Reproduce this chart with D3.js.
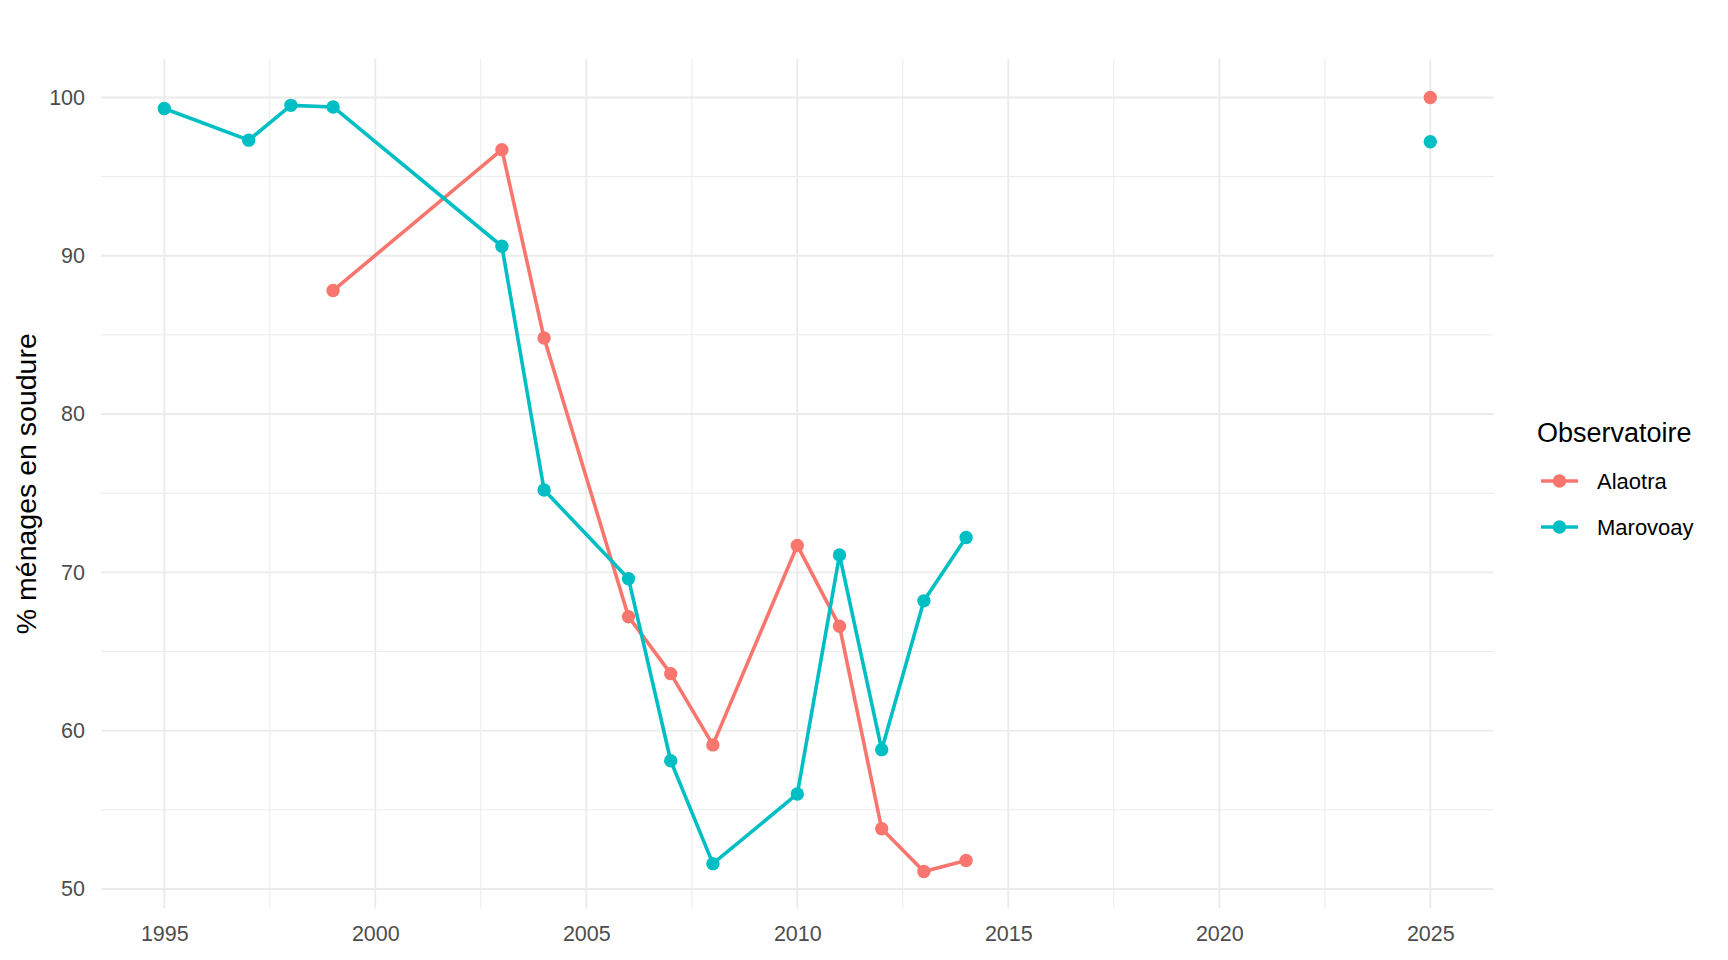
<!DOCTYPE html>
<html>
<head>
<meta charset="utf-8">
<script src="https://cdn.jsdelivr.net/npm/d3@7"></script>
<style>
  html, body { margin: 0; padding: 0; background: #fff; }
  svg { display: block; font-family: "Liberation Sans", Arial, sans-serif; }
</style>
</head>
<body>
<svg id="chart" width="1728" height="960"></svg>
<script>
// ---- Data ----
const seriesNames = ["Alaotra", "Marovoay"];
const seriesColors = ["#F8766D", "#00BFC4"];

// null marks the missing years between 2014 and 2025 (line break)
const alaotraYears  = [1999, 2003, 2004, 2006, 2007, 2008, 2010, 2011, 2012, 2013, 2014, 2015, 2025];
const alaotraValues = [87.8, 96.7, 84.8, 67.2, 63.6, 59.1, 71.7, 66.6, 53.8, 51.1, 51.8, null, 100.0];

const marovoayYears  = [1995, 1997, 1998, 1999, 2003, 2004, 2006, 2007, 2008, 2010, 2011, 2012, 2013, 2014, 2015, 2025];
const marovoayValues = [99.3, 97.3, 99.5, 99.4, 90.6, 75.2, 69.6, 58.1, 51.6, 56.0, 71.1, 58.8, 68.2, 72.2, null, 97.2];

const xTicks = [1995, 2000, 2005, 2010, 2015, 2020, 2025];
const xMinor = [1997.5, 2002.5, 2007.5, 2012.5, 2017.5, 2022.5];
const yTicks = [50, 60, 70, 80, 90, 100];
const yMinor = [55, 65, 75, 85, 95];

const yTitle = "% ménages en soudure";
const legendTitle = "Observatoire";

// ---- Build ----
const series = [
  { name: seriesNames[0], color: seriesColors[0], pts: alaotraYears.map((x, i) => ({ x, y: alaotraValues[i] })) },
  { name: seriesNames[1], color: seriesColors[1], pts: marovoayYears.map((x, i) => ({ x, y: marovoayValues[i] })) }
];

const svg = d3.select("#chart");
const panel = { left: 101, right: 1493.6, top: 58.8, bottom: 908.6 };

const x = d3.scaleLinear().domain([1993.5, 2026.5]).range([panel.left, panel.right]);
const y = d3.scaleLinear().domain([48.76, 102.44]).range([panel.bottom, panel.top]);

const grid = svg.append("g");
// minor grid
grid.selectAll(".ymin").data(yMinor).join("line")
  .attr("x1", panel.left).attr("x2", panel.right)
  .attr("y1", d => y(d)).attr("y2", d => y(d))
  .attr("stroke", "#EBEBEB").attr("stroke-width", 1);
grid.selectAll(".xmin").data(xMinor).join("line")
  .attr("y1", panel.top).attr("y2", panel.bottom)
  .attr("x1", d => x(d)).attr("x2", d => x(d))
  .attr("stroke", "#EBEBEB").attr("stroke-width", 1);
// major grid
grid.selectAll(".ymaj").data(yTicks).join("line")
  .attr("x1", panel.left).attr("x2", panel.right)
  .attr("y1", d => y(d)).attr("y2", d => y(d))
  .attr("stroke", "#EBEBEB").attr("stroke-width", 1.9);
grid.selectAll(".xmaj").data(xTicks).join("line")
  .attr("y1", panel.top).attr("y2", panel.bottom)
  .attr("x1", d => x(d)).attr("x2", d => x(d))
  .attr("stroke", "#EBEBEB").attr("stroke-width", 1.9);

// axes (text only, via d3 axis)
const xAxis = svg.append("g")
  .attr("transform", `translate(0,${panel.bottom})`)
  .call(d3.axisBottom(x).tickValues(xTicks).tickFormat(d3.format("d")).tickSize(0).tickPadding(17));
xAxis.select(".domain").remove();
xAxis.selectAll("text").attr("fill", "#4D4D4D").style("font-size", "21.5px")
  .style("font-family", "Liberation Sans, Arial, sans-serif");

const yAxis = svg.append("g")
  .attr("transform", `translate(${panel.left},0)`)
  .call(d3.axisLeft(y).tickValues(yTicks).tickFormat(d3.format("d")).tickSize(0).tickPadding(16));
yAxis.select(".domain").remove();
yAxis.selectAll("text").attr("fill", "#4D4D4D").style("font-size", "21.5px")
  .style("font-family", "Liberation Sans, Arial, sans-serif");

// y title
svg.append("text")
  .attr("transform", `translate(36,${(panel.top + panel.bottom) / 2}) rotate(-90)`)
  .attr("text-anchor", "middle")
  .attr("fill", "#000")
  .style("font-size", "28.5px")
  .text(yTitle);

// lines and points
const line = d3.line().defined(d => d.y !== null).x(d => x(d.x)).y(d => y(d.y));
series.forEach(s => {
  svg.append("path").datum(s.pts)
    .attr("d", line)
    .attr("fill", "none")
    .attr("stroke", s.color)
    .attr("stroke-width", 3.6)
    .attr("stroke-linejoin", "round");
  svg.append("g").selectAll("circle").data(s.pts.filter(d => d.y !== null)).join("circle")
    .attr("cx", d => x(d.x)).attr("cy", d => y(d.y)).attr("r", 6.7)
    .attr("fill", s.color);
});

// legend
const lg = svg.append("g");
lg.append("text").attr("x", 1537).attr("y", 441.7)
  .attr("fill", "#000").style("font-size", "27px").text(legendTitle);
const legendYs = [481, 527];
series.forEach((s, i) => {
  const cy = legendYs[i];
  lg.append("line").attr("x1", 1541).attr("x2", 1578).attr("y1", cy).attr("y2", cy)
    .attr("stroke", s.color).attr("stroke-width", 3.6);
  lg.append("circle").attr("cx", 1559.5).attr("cy", cy).attr("r", 6.7).attr("fill", s.color);
  lg.append("text").attr("x", 1597).attr("y", cy).attr("dy", "0.35em")
    .attr("fill", "#000").style("font-size", "22px").text(s.name);
});
</script>
</body>
</html>
